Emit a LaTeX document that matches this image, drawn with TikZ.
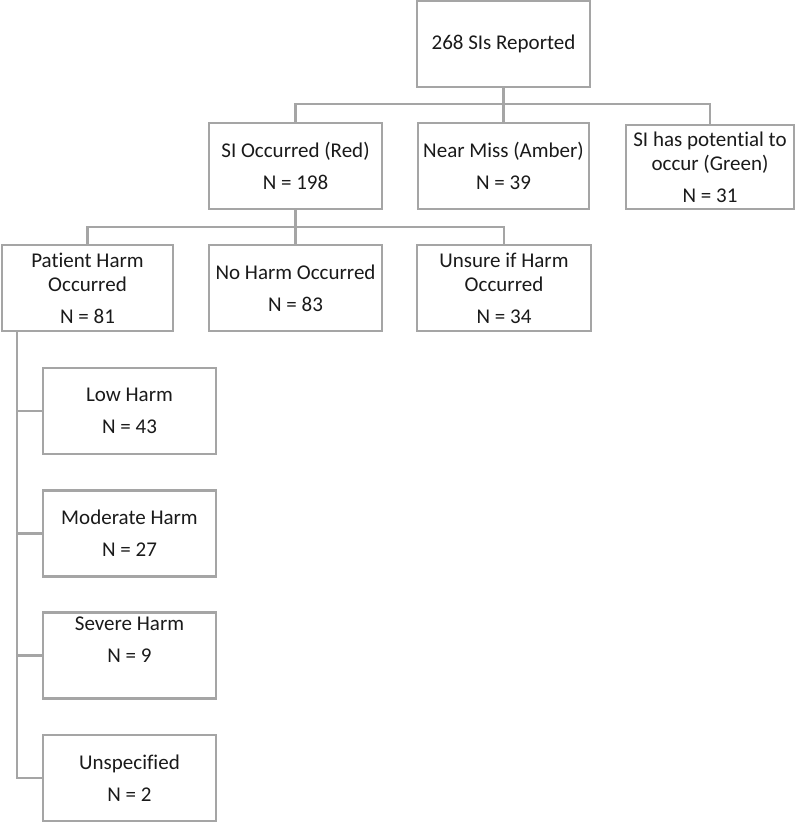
\documentclass[tikz,border=0pt]{standalone}
\usepackage{fontspec}
\setmainfont[Ligatures=NoCommon]{Carlito}
\usepackage{xcolor}
\usepackage{tikz}
\definecolor{LineGray}{HTML}{A5A5A5}
\definecolor{TextColor}{HTML}{1A1A1A}
\begin{document}
\begin{tikzpicture}[x=1pt,y=-1pt,
	sibox/.style={draw=LineGray, line width=2.2pt, fill=white, inner sep=0pt, align=center, minimum height=86pt, minimum width=173pt, text=TextColor, font=\fontsize{21}{24}\selectfont},
	link/.style={draw=LineGray, line width=2.2pt}]
	\useasboundingbox[fill=white] (0,0) rectangle (799,822);

	\node[sibox] (total) at (503.5,44) {268 SIs Reported};

	\node[sibox] (red) at (295.5,166) {SI Occurred (Red)\\[8pt]N = 198};
	\node[sibox, minimum width=171pt] (amber) at (503.5,166) {Near Miss (Amber)\\[8pt]N = 39};
	\node[sibox, minimum width=168pt, minimum height=84pt] (green) at (710,167) {SI has potential to\\occur (Green)\\[8pt]N = 31};

	\node[sibox, minimum width=171pt] (harm) at (87.5,288) {Patient Harm\\Occurred\\[8pt]N = 81};
	\node[sibox] (noharm) at (295.5,288) {No Harm Occurred\\[8pt]N = 83};
	\node[sibox, minimum width=174pt] (unsure) at (504,288) {Unsure if Harm\\Occurred\\[8pt]N = 34};

	\node[sibox] (low) at (129.5,411) {Low Harm\\[8pt]N = 43};
	\node[sibox] (moderate) at (129.5,533.5) {Moderate Harm\\[8pt]N = 27};
	\node[sibox] (severe) at (129.5,655.5) {Severe Harm\\[8pt]N = 9\\[8pt]\mbox{}};
	\node[sibox] (unspec) at (129.5,778) {Unspecified\\[8pt]N = 2};

	\draw[link] (total.south) -- (amber.north);
	\draw[link] (red.north) -- ++(0,-18) -| (green.north);

	\draw[link] (red.south) -- (noharm.north);
	\draw[link] (harm.north) -- ++(0,-17) -| (unsure.north);

	\coordinate (trunk) at ([xshift=16pt]harm.south west);
	\draw[link] (trunk) |- (unspec.west);
	\foreach \leaf in {low,moderate,severe} {
		\draw[link] (\leaf.west) -- (\leaf.west -| trunk);
	}
\end{tikzpicture}
\end{document}
